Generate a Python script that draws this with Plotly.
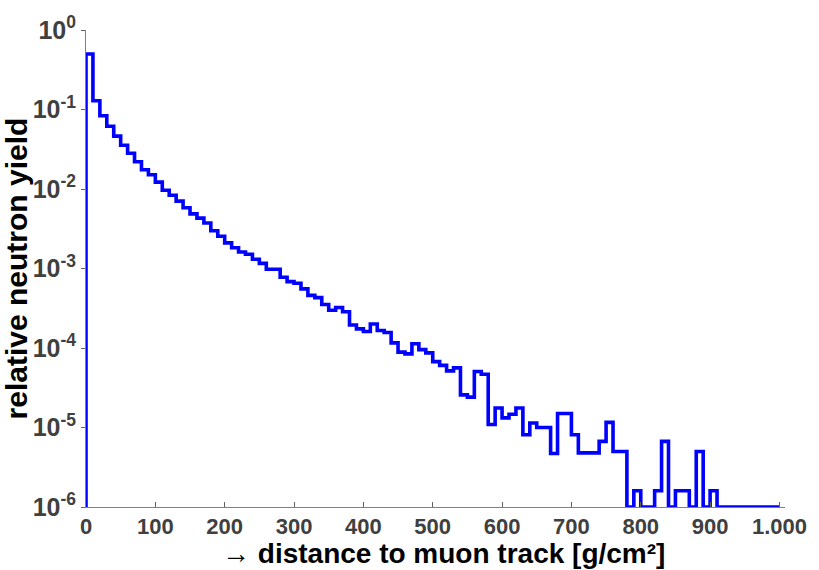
import numpy as np
import plotly.graph_objects as go

# Histogram: relative neutron yield per 10 g/cm^2 bin (0..1000)
bin_width = 10
yield_values = [
    0.50, 0.129, 0.0835, 0.0615, 0.0463, 0.0355, 0.0282, 0.0220, 0.0175, 0.0151,
    0.0122, 0.00964, 0.00836, 0.00704, 0.00582, 0.00486, 0.00430, 0.00373, 0.00299, 0.00254,
    0.00210, 0.00182, 0.00161, 0.00151, 0.00131, 0.00116, 0.00098, 0.00098, 0.000775, 0.000684,
    0.000653, 0.000555, 0.000459, 0.000430, 0.000352, 0.000299, 0.000323, 0.000286, 0.000195, 0.000174,
    0.000161, 0.000200, 0.000166, 0.000157, 0.000116, 0.0000887, 0.0000844, 0.000113, 0.0000955, 0.0000869,
    0.0000673, 0.0000605, 0.0000515, 0.0000562, 0.0000257, 0.0000241, 0.0000506, 0.0000468, 0.0000109, 0.0000176,
    0.0000132, 0.0000147, 0.0000176, 0.0000081, 0.0000114, 0.0000100, 0.0000100, 0.0000047, 0.0000150, 0.0000150,
    0.0000081, 0.0000048, 0.0000048, 0.0000048, 0.0000067, 0.0000116, 0.0000050, 0.0000050, 0.0, 0.0000016,
    0.0, 0.0, 0.0000016, 0.0000067, 0.0, 0.0000016, 0.0000016, 0.0, 0.0000050, 0.0,
    0.0000016, 0.0, 0.0, 0.0, 0.0, 0.0, 0.0, 0.0, 0.0, 0.0,
]
floor_value = 1e-6

x_tick_vals = [0, 100, 200, 300, 400, 500, 600, 700, 800, 900, 1000]
x_tick_text = ["0", "100", "200", "300", "400", "500", "600", "700", "800", "900", "1.000"]
y_tick_vals = [1e-6, 1e-5, 1e-4, 1e-3, 1e-2, 1e-1, 1e0]
y_tick_text = ["10<sup>-6</sup>", "10<sup>-5</sup>", "10<sup>-4</sup>", "10<sup>-3</sup>",
               "10<sup>-2</sup>", "10<sup>-1</sup>", "10<sup>0</sup>"]

x_title = "→ distance to muon track [g/cm²]"
y_title = "relative neutron yield"

vals = np.maximum(np.array(yield_values), floor_value)
edges = np.arange(len(vals) + 1) * bin_width
xs = np.concatenate([[edges[0]], edges])
ys = np.concatenate([[floor_value], vals, [vals[-1]]])

font_family = "Liberation Sans, Arial, sans-serif"

fig = go.Figure()
fig.add_trace(go.Scatter(
    x=xs, y=ys, mode="lines", line=dict(color="#0000FF", width=3.6, shape="hv"),
    cliponaxis=False, showlegend=False, hoverinfo="skip",
))

fig.update_layout(
    width=819, height=570,
    margin=dict(l=82, r=33, t=23, b=63),
    paper_bgcolor="white", plot_bgcolor="white",
    font=dict(family=font_family, color="#404040"),
)
fig.add_annotation(
    text=x_title, xref="paper", yref="paper", x=0.512, y=-0.098,
    xanchor="center", yanchor="middle", showarrow=False,
    font=dict(size=28, family=font_family, color="#000000", weight="bold"),
)
fig.update_xaxes(
    range=[0, 1008], tickvals=x_tick_vals, ticktext=x_tick_text,
    showgrid=False, zeroline=False, showline=True, linecolor="#808080", linewidth=1,
    ticks="inside", ticklen=5, tickcolor="#606060",
    tickfont=dict(size=22, family=font_family, color="#404040", weight="bold"),
)
fig.update_yaxes(
    type="log", range=[-6, 0], tickvals=y_tick_vals, ticktext=y_tick_text,
    showgrid=False, zeroline=False, showline=True, linecolor="#808080", linewidth=1,
    ticks="outside", ticklen=4, tickcolor="#606060",
    tickfont=dict(size=25, family=font_family, color="#404040", weight="bold"),
    title=dict(text=y_title, font=dict(size=30, family=font_family, color="#000000", weight="bold"),
               standoff=0),
)

fig.write_html("out.html")
